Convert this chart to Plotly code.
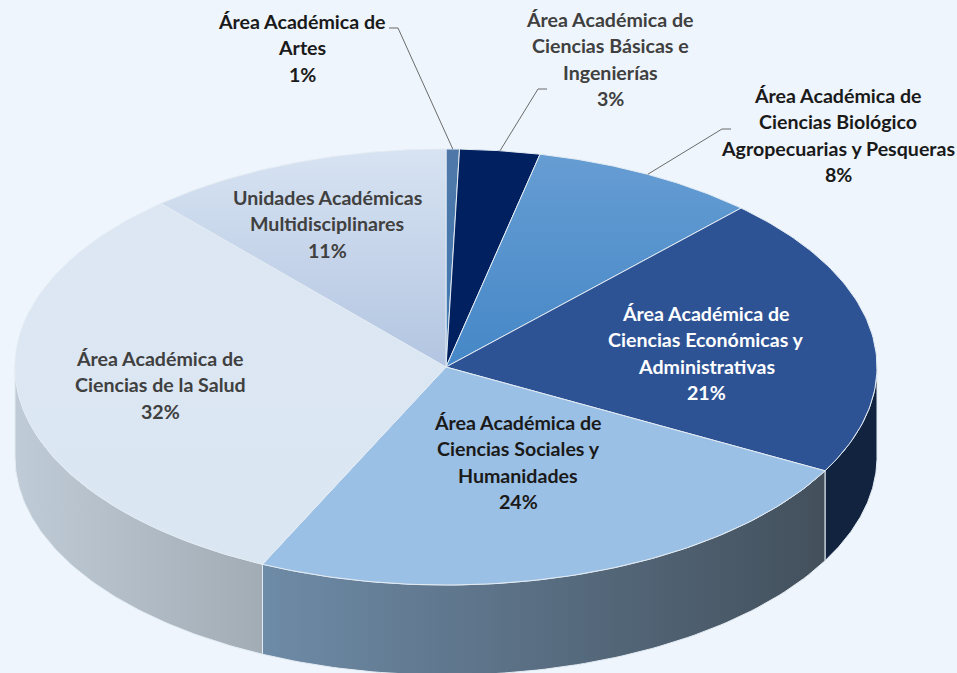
import numpy as np
import plotly.graph_objects as go

# ---- data ----
names = [
    ["Área Académica de", "Artes"],
    ["Área Académica de", "Ciencias Básicas e", "Ingenierías"],
    ["Área Académica de", "Ciencias Biológico", "Agropecuarias y Pesqueras"],
    ["Área Académica de", "Ciencias Económicas y", "Administrativas"],
    ["Área Académica de", "Ciencias Sociales y", "Humanidades"],
    ["Área Académica de", "Ciencias de la Salud"],
    ["Unidades Académicas", "Multidisciplinares"],
]
percent_labels = ["1%", "3%", "8%", "21%", "24%", "32%", "11%"]
# slice shares
values = [0.5, 3.0, 8.5, 20.9, 24.1, 31.5, 11.5]

# ---- style / layout ----
W, H = 957, 673
CX, CY = 446, 367      # pie centre in page pixels
RX, RY = 431, 218      # ellipse radii
DEPTH = 90             # wall height
BG = "#eef5fc"
top_grad = [
    ("#4f78a8", "#3f78b4"), ("#00205f", "#00205f"), ("#669dd3", "#4587c7"),
    ("#2e5395", "#2e5395"), ("#9bc0e5", "#9bc0e5"), ("#dce7f3", "#dae6f2"),
    ("#d7e3f2", "#b3c5e1"),
]
wall_grad = [
    None, None, None, ("#12233f", "#12233f"), ("#6e8ba7", "#43505c"),
    ("#bfcbd6", "#a2acb5"), None,
]
label_x = [302, 610, 838, 706, 518, 160, 327]
label_y0 = [21.5, 19.5, 95.5, 313.5, 422.5, 358.5, 197.5]
LINE_STEP = 26.3
label_color = ["#1a1a1a", "#404040", "#1a1a1a", "#ffffff", "#1a1a1a", "#404040", "#404040"]
FONT = "Lato"
FONT_SIZE = 19.6
EDGE = "#e3ebf3"
# leader lines: elbow start and elbow bend in page pixels, for the outside labels
leaders = {0: ((389, 28), (398, 28)), 1: ((547, 89), (538, 89)), 2: ((731, 129), (722, 129))}


def px(x):
    return x - CX


def py(y):
    return CY - y


cum = np.concatenate([[0], np.cumsum(values)]) / np.sum(values) * 2 * np.pi


def arc(a0, a1, dy=0.0, n=80):
    t = np.linspace(a0, a1, n)
    return RX * np.sin(t), RY * np.cos(t) - dy


fig = go.Figure()

# walls
for i, g in enumerate(wall_grad):
    if g is None:
        continue
    a0 = max(cum[i], np.pi / 2)
    a1 = min(cum[i + 1], 3 * np.pi / 2)
    tx, ty = arc(a0, a1)
    bx, by = arc(a1, a0, DEPTH)
    fig.add_trace(go.Scatter(
        x=np.r_[tx, bx, tx[0]], y=np.r_[ty, by, ty[0]],
        mode="lines", fill="toself", line=dict(color=EDGE, width=1),
        fillgradient=dict(type="horizontal", colorscale=[[0, g[0]], [1, g[1]]]),
        hoverinfo="skip", showlegend=False,
    ))

# top faces
for i, g in enumerate(top_grad):
    ax, ay = arc(cum[i], cum[i + 1])
    fig.add_trace(go.Scatter(
        x=np.r_[0, ax, 0], y=np.r_[0, ay, 0],
        mode="lines", fill="toself", line=dict(color=EDGE, width=1),
        fillgradient=dict(type="vertical", colorscale=[[0, g[1]], [1, g[0]]]),
        hoverinfo="skip", showlegend=False,
    ))

# leader lines
for i, (start, bend) in leaders.items():
    mid = (cum[i] + cum[i + 1]) / 2
    fig.add_trace(go.Scatter(
        x=[px(start[0]), px(bend[0]), RX * np.sin(mid)],
        y=[py(start[1]), py(bend[1]), RY * np.cos(mid)],
        mode="lines", line=dict(color="#6b6b6b", width=1),
        hoverinfo="skip", showlegend=False,
    ))

# labels, one annotation per line so the line spacing can match
for i, lines in enumerate(names):
    for j, text in enumerate(lines + [percent_labels[i]]):
        fig.add_annotation(
            x=px(label_x[i]), y=py(label_y0[i] + j * LINE_STEP),
            text=text, showarrow=False, xanchor="center", yanchor="middle",
            font=dict(family=FONT, size=FONT_SIZE, color=label_color[i], weight=700),
        )

fig.update_layout(
    width=W, height=H, margin=dict(l=0, r=0, t=0, b=0),
    paper_bgcolor=BG, plot_bgcolor=BG, showlegend=False,
    xaxis=dict(range=[px(0), px(W)], visible=False, fixedrange=True),
    yaxis=dict(range=[py(H), py(0)], visible=False, fixedrange=True),
)
fig.write_html("out.html", config={"displayModeBar": False},
               post_script="document.body.style.margin='0';document.body.style.background='%s';" % BG)
